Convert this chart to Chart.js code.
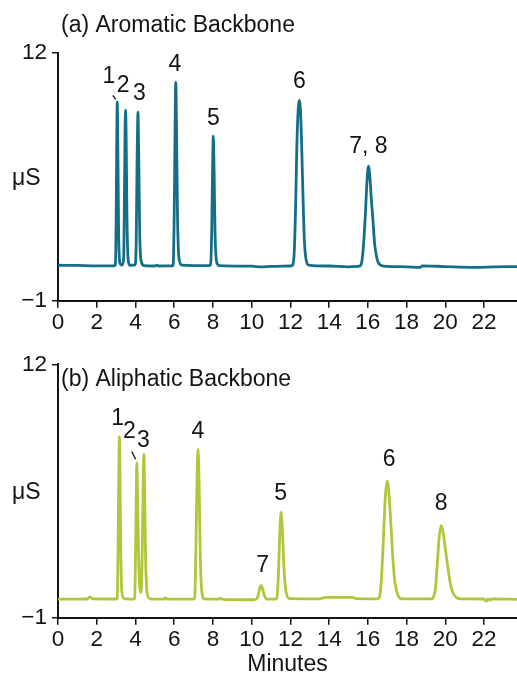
<!DOCTYPE html>
<html>
<head>
<meta charset="utf-8">
<script src="https://cdn.jsdelivr.net/npm/chart.js@4/dist/chart.umd.min.js"></script>
<style>
  body { margin: 0; background: #fff; }
  canvas { position: absolute; left: 0; }
  #chartA { top: 0; }
  #chartB { top: 340px; }
</style>
</head>
<body>
<canvas id="chartA" width="517" height="340"></canvas>
<canvas id="chartB" width="517" height="344"></canvas>
<script>
// x axis (minutes)
const xTicks = [0, 2, 4, 6, 8, 10, 12, 14, 16, 18, 20, 22];
const yTicks = [-1, 12];

// (a) aromatic backbone trace
const timesA = [
  0, 1.0, 2.0, 2.9,
  2.96, 3.0, 3.03, 3.06, 3.09, 3.13, 3.19,
  3.3, 3.39, 3.43, 3.46, 3.49, 3.52, 3.56, 3.62, 3.72,
  3.98, 4.04, 4.08, 4.13, 4.17, 4.22, 4.3, 4.45,
  5.0, 5.1, 5.2, 5.9,
  5.95, 6.0, 6.04, 6.08, 6.12, 6.17, 6.25, 6.4,
  7.8, 7.88, 7.94, 7.98, 8.02, 8.06, 8.11, 8.2, 8.35,
  10.0, 10.5, 11.0, 12.0,
  12.12, 12.2, 12.27, 12.33, 12.4, 12.46, 12.52, 12.58, 12.65, 12.72, 12.82, 12.95,
  14.0, 15.0, 15.5,
  15.64, 15.72, 15.8, 15.87, 15.95, 16.03, 16.11, 16.18, 16.25, 16.35, 16.5, 16.7,
  17.0, 18.0, 18.7, 18.8, 20.0, 21.5, 22.5, 23.7
];
const valuesA = [
  0.86, 0.85, 0.83, 0.83,
  0.88, 3.0, 7.0, 9.43, 7.0, 2.6, 1.0,
  0.87, 1.2, 4.5, 7.8, 9.0, 7.5, 3.5, 1.2, 0.86,
  0.88, 2.2, 6.0, 8.9, 6.5, 2.5, 1.05, 0.84,
  0.82, 0.86, 0.82, 0.83,
  0.92, 3.5, 7.5, 10.46, 8.0, 3.5, 1.2, 0.87,
  0.84, 0.9, 2.8, 5.8, 7.63, 5.8, 2.5, 1.0, 0.84,
  0.81, 0.77, 0.8, 0.82,
  0.88, 1.6, 4.0, 7.0, 9.0, 9.52, 9.0, 7.2, 4.5, 2.2, 1.1, 0.87,
  0.82, 0.78, 0.8,
  0.87, 1.3, 2.3, 3.5, 5.2, 6.06, 5.4, 4.3, 3.4, 2.0, 1.1, 0.85,
  0.8, 0.78, 0.75, 0.83, 0.79, 0.75, 0.77, 0.79
];
const peakLabelsA = ['1', '2', '3', '4', '5', '6', '7, 8'];
const labelXA = [2.63, 3.37, 4.2, 6.04, 8.02, 12.46, 16.03];
const labelYA = [10.78, 10.31, 9.87, 11.41, 8.56, 10.48, 7.11];
const leaderA = [[2.83, 9.78], [2.98, 9.57]];

// (b) aliphatic backbone trace
const timesB = [
  0, 1.5, 1.65, 1.8, 3.0,
  3.06, 3.1, 3.14, 3.17, 3.2, 3.24, 3.3, 3.42,
  3.9, 3.96, 4.0, 4.04, 4.07, 4.11, 4.17, 4.25,
  4.3, 4.36, 4.4, 4.43, 4.47, 4.52, 4.6, 4.75,
  5.45, 5.55, 5.65, 7.0,
  7.06, 7.12, 7.18, 7.23, 7.28, 7.34, 7.42, 7.55,
  8.3, 8.4, 8.5, 10.1,
  10.25, 10.35, 10.43, 10.49, 10.56, 10.65, 10.78,
  11.2, 11.3, 11.38, 11.45, 11.52, 11.59, 11.67, 11.78, 11.95,
  13.5, 13.8, 15.2, 15.4, 16.5,
  16.6, 16.7, 16.8, 16.9, 17.0, 17.1, 17.2, 17.3, 17.4, 17.55, 17.75,
  19.3, 19.4, 19.5, 19.59, 19.68, 19.78, 19.88, 19.98, 20.1, 20.25, 20.4, 20.6, 20.8,
  22.0, 22.1, 22.2, 22.3, 22.4, 23.7
];
const valuesB = [
  -0.05, -0.04, 0.06, -0.03, -0.04,
  -0.01, 2.5, 6.5, 8.29, 6.5, 2.5, 0.3, -0.02,
  -0.05, -0.01, 2.0, 5.2, 6.95, 5.0, 1.8, 0.3,
  0.4, 3.0, 6.2, 7.38, 5.8, 2.2, 0.3, -0.03,
  -0.05, 0.01, -0.05, -0.05,
  0.05, 2.5, 6.2, 7.64, 6.2, 2.5, 0.4, -0.03,
  -0.05, 0.0, -0.06, -0.08,
  -0.04, 0.2, 0.55, 0.66, 0.5, 0.15, -0.05,
  -0.05, 0.02, 1.2, 3.3, 4.41, 3.4, 1.5, 0.3, -0.02,
  -0.03, 0.04, 0.04, -0.02, -0.03,
  0.05, 1.0, 3.0, 5.2, 6.0, 5.2, 3.6, 1.9, 0.8, 0.15, -0.03,
  -0.03, 0.1, 0.6, 1.85, 3.1, 3.72, 3.4, 2.7, 1.8, 0.8, 0.25, 0.02, -0.03,
  -0.04, -0.15, -0.03, -0.1, -0.04, -0.06
];
const peakLabelsB = ['1', '2', '3', '4', '7', '5', '6', '8'];
const labelXB = [3.08, 3.68, 4.41, 7.22, 10.57, 11.5, 17.1, 19.78];
const labelYB = [9.23, 8.54, 8.08, 8.54, 1.65, 5.38, 7.09, 4.87];
const leaderB = [[3.81, 7.52], [4.01, 7.13]];

const FONT_FAMILY = '"Liberation Sans", Arial, Helvetica, sans-serif';
const INK = '#141414';
Chart.defaults.font.family = FONT_FAMILY;

const peakPlugin = {
    id: 'peaks',
    afterDraw(chart, args, o) {
        const { ctx, chartArea } = chart;
        const x = chart.scales.x, y = chart.scales.y;
        ctx.save();
        ctx.fillStyle = INK;
        ctx.font = '23px ' + FONT_FAMILY;
        ctx.textAlign = 'left';
        ctx.textBaseline = 'alphabetic';
        ctx.fillText(o.title, o.titleX, o.titleY);
        ctx.fillText('μS', 12, (chartArea.top + chartArea.bottom) / 2 + 8);

        ctx.textAlign = 'center';
        ctx.textBaseline = 'middle';
        o.labels.forEach((t, i) => {
            ctx.fillText(t, x.getPixelForValue(o.labelX[i]), y.getPixelForValue(o.labelY[i]));
        });

        ctx.strokeStyle = INK;
        ctx.lineWidth = 1.3;
        ctx.beginPath();
        ctx.moveTo(x.getPixelForValue(o.leader[0][0]), y.getPixelForValue(o.leader[0][1]));
        ctx.lineTo(x.getPixelForValue(o.leader[1][0]), y.getPixelForValue(o.leader[1][1]));
        ctx.stroke();
        ctx.restore();
    }
};

function chromChart(id, times, values, color, peaks, layout) {
    const ctx = document.getElementById(id).getContext('2d');
    return new Chart(ctx, {
        type: 'line',
        data: {
            datasets: [{
                data: times.map((t, i) => ({ x: t, y: values[i] })),
                borderColor: color,
                borderWidth: 2.8,
                borderJoinStyle: 'round',
                pointRadius: 0,
                cubicInterpolationMode: 'monotone',
                fill: false
            }]
        },
        options: {
            responsive: false,
            animation: false,
            devicePixelRatio: 1,
            layout: { padding: { top: layout.padTop, left: 0, right: 0, bottom: 0 } },
            plugins: {
                legend: { display: false },
                tooltip: { enabled: false },
                peaks: peaks
            },
            scales: {
                x: {
                    type: 'linear',
                    min: 0,
                    max: 23.7,
                    afterBuildTicks: (s) => { s.ticks = xTicks.map(v => ({ value: v })); },
                    afterFit: (s) => { s.height = layout.xHeight; },
                    grid: { drawOnChartArea: false, drawTicks: true, tickLength: 7, color: INK, lineWidth: 1.5 },
                    border: { display: true, color: INK, width: 2 },
                    ticks: { color: INK, font: { size: 22.5 }, padding: 2, maxRotation: 0, autoSkip: false },
                    title: { display: layout.showMinutes, text: 'Minutes', color: INK, font: { size: 23 }, padding: { top: 0, bottom: 6 } }
                },
                y: {
                    min: -1,
                    max: 12,
                    afterBuildTicks: (s) => { s.ticks = yTicks.map(v => ({ value: v })); },
                    afterFit: (s) => { s.width = 58; },
                    grid: { drawOnChartArea: false, drawTicks: true, tickLength: 6, color: INK, lineWidth: 1.5 },
                    border: { display: true, color: INK, width: 2 },
                    ticks: {
                        color: INK,
                        font: { size: 22.5 },
                        padding: 5,
                        callback: (v) => (v < 0 ? '\u2212' + Math.abs(v) : String(v))
                    }
                }
            }
        },
        plugins: [peakPlugin]
    });
}

chromChart('chartA', timesA, valuesA, '#156e88', {
    title: '(a) Aromatic Backbone', titleX: 61, titleY: 32,
    labels: peakLabelsA, labelX: labelXA, labelY: labelYA, leader: leaderA
}, { padTop: 53, xHeight: 39.3, showMinutes: false });

chromChart('chartB', timesB, valuesB, '#b3c53a', {
    title: '(b) Aliphatic Backbone', titleX: 61, titleY: 46,
    labels: peakLabelsB, labelX: labelXB, labelY: labelYB, leader: leaderB
}, { padTop: 24.3, xHeight: 66.3, showMinutes: true });
</script>
</body>
</html>
